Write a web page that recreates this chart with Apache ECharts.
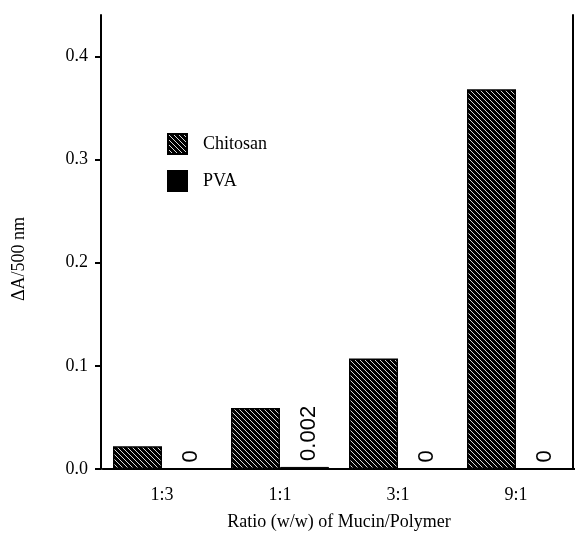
<!DOCTYPE html>
<html>
<head>
<meta charset="utf-8">
<script src="https://cdn.jsdelivr.net/npm/echarts@6/dist/echarts.min.js"></script>
<style>
  html, body { margin: 0; padding: 0; background: #fff; }
  #chart { width: 575px; height: 533px; }
</style>
</head>
<body>
<div id="chart"></div>
<script>
// data
const categories = ['1:3', '1:1', '3:1', '9:1']
const chitosan = [0.022, 0.059, 0.107, 0.368]
const pva = [0, 0.002, 0, 0]
const yTicks = [0, 0.1, 0.2, 0.3, 0.4]

const serif = 'Liberation Serif'
const sans = 'Liberation Sans'

// hatch pattern: black with thin light diagonal lines (\ direction)
function makeHatch() {
  let s = 5
  let cv = document.createElement('canvas')
  cv.width = s
  cv.height = s
  let ctx = cv.getContext('2d')
  ctx.fillStyle = '#000'
  ctx.fillRect(0, 0, s, s)
  ctx.fillStyle = '#d8d8d8'
  for (let i = 0; i < s; i++) {
    ctx.fillRect(i, i, 1, 1)
  }
  return cv
}
const hatch = { image: makeHatch(), repeat: 'repeat' }

let chart = echarts.init(document.getElementById('chart'))

let option = {
  backgroundColor: '#fff',
  animation: false,
  grid: {
    left: 103,
    right: 0,
    top: 15,
    bottom: 64,
    outerBoundsMode: 'none',
    containLabel: false,
  },
  legend: {
    orient: 'vertical',
    left: 167,
    top: 133,
    padding: 0,
    itemWidth: 19,
    itemHeight: 20,
    itemGap: 15,
    icon: 'rect',
    data: ['Chitosan', 'PVA'],
    textStyle: {
      fontFamily: serif,
      fontSize: 18,
      color: '#000',
      padding: [0, 0, 0, 11],
    },
  },
  xAxis: [
    {
      type: 'category',
      data: categories,
      name: 'Ratio (w/w) of Mucin/Polymer',
      nameLocation: 'middle',
      nameGap: 44,
      nameTextStyle: { fontFamily: serif, fontSize: 18, color: '#000' },
      axisLine: { lineStyle: { color: '#000', width: 2 } },
      axisTick: { alignWithLabel: true, length: 8, lineStyle: { color: '#000', width: 2 } },
      axisLabel: { fontFamily: serif, fontSize: 18, color: '#000', margin: 17 },
      splitLine: { show: false },
    },
    {
      // top frame
      type: 'category',
      position: 'top',
      data: categories,
      axisLine: { lineStyle: { color: '#000', width: 2 } },
      axisTick: { show: false },
      axisLabel: { show: false },
    },
  ],
  yAxis: [
    {
      type: 'value',
      min: 0,
      max: 0.44,
      interval: 0.1,
      offset: 2,
      name: 'ΔA/500 nm',
      nameLocation: 'middle',
      nameGap: 73,
      nameTextStyle: { fontFamily: serif, fontSize: 18, color: '#000', padding: [0, 34, 0, 0] },
      axisLine: { show: true, lineStyle: { color: '#000', width: 2 } },
      axisTick: { show: true, length: 6, customValues: yTicks, lineStyle: { color: '#000', width: 2 } },
      axisLabel: {
        customValues: yTicks,
        fontFamily: serif,
        fontSize: 18,
        color: '#000',
        margin: 13,
        formatter: (v) => v.toFixed(1),
      },
      splitLine: { show: false },
    },
    {
      // right frame
      type: 'value',
      position: 'right',
      min: 0,
      max: 0.44,
      offset: -2,
      axisLine: { show: true, lineStyle: { color: '#000', width: 2 } },
      axisTick: { show: false },
      axisLabel: { show: false },
      splitLine: { show: false },
    },
  ],
  series: [
    {
      name: 'Chitosan',
      type: 'bar',
      barWidth: 49,
      barGap: 0,
      itemStyle: { color: hatch, borderColor: '#000', borderWidth: 1.5 },
      data: chitosan,
    },
    {
      name: 'PVA',
      type: 'bar',
      barWidth: 49,
      barGap: 0,
      itemStyle: { color: '#000', borderColor: '#000', borderWidth: 1 },
      label: {
        show: true,
        position: 'top',
        distance: 6,
        offset: [0, 4],
        rotate: 90,
        align: 'left',
        verticalAlign: 'middle',
        fontFamily: sans,
        fontSize: 22,
        color: '#000',
        formatter: (p) => (p.value === 0 ? '0' : String(p.value)),
      },
      data: pva,
    },
  ],
}

chart.setOption(option)
</script>
</body>
</html>
